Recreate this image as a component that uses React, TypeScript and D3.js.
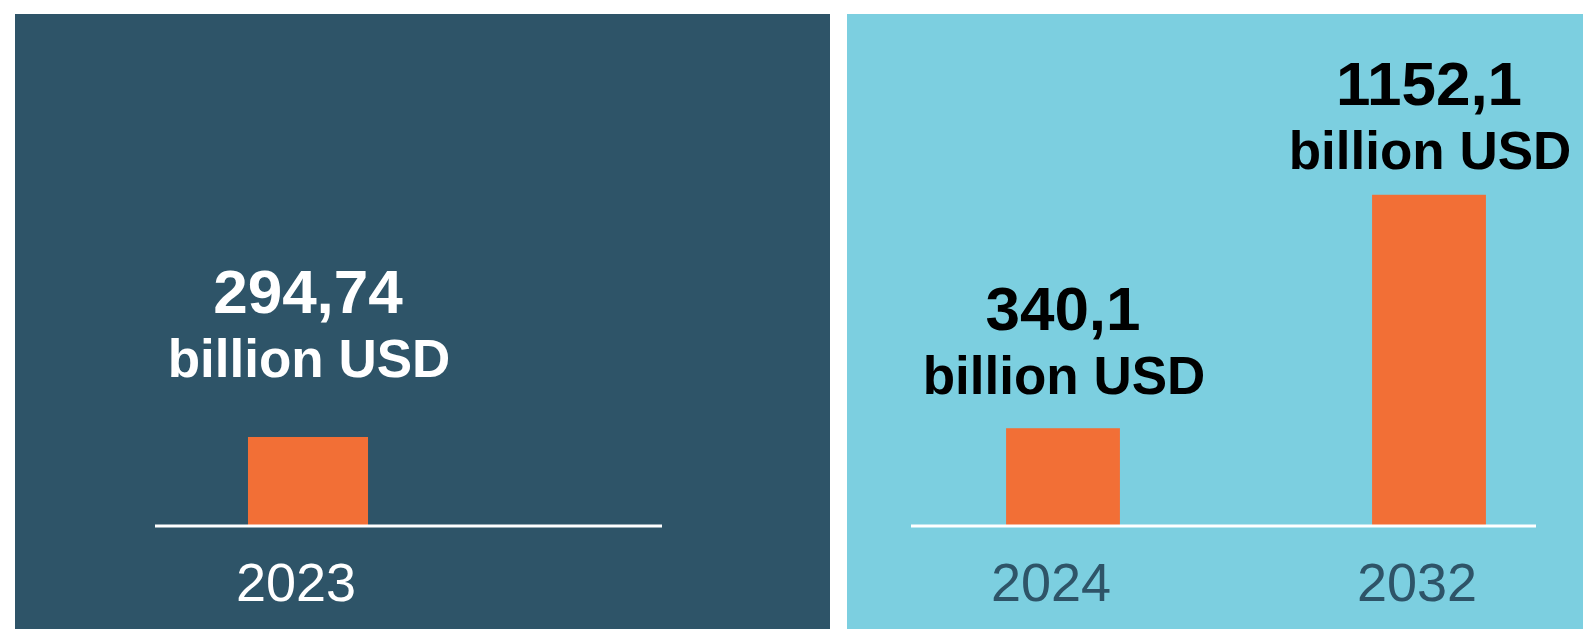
import React from "react";
import * as d3 from "d3";

const leftYears = ["2023"];
const leftValues = [294.74];
const leftLabels = ["294,74"];

const rightYears = ["2024", "2032"];
const rightValues = [340.1, 1152.1];
const rightLabels = ["340,1", "1152,1"];

const unitLabel = "billion USD";

const W = 1583;
const H = 629;
const DARK = "#2e5468";
const LIGHT = "#7ccfe0";
const ORANGE = "#f26f36";
const FONT = "'Liberation Sans', Arial, Helvetica, sans-serif";

type PanelProps = {
  years: string[];
  values: number[];
  labels: string[];
  xRange: [number, number];
  yTopAt1000: number;
  axis: [number, number];
  textColor: string;
  yearColor: string;
  labelOffsets: number[];
};

const BASE = 526;

function Panel({ years, values, labels, xRange, yTopAt1000, axis, textColor, yearColor, labelOffsets }: PanelProps) {
  const x = d3.scaleBand<string>().domain(years).range(xRange).paddingInner(0.689).paddingOuter(0.3445);
  const y = d3.scaleLinear().domain([0, 1000]).range([BASE, yTopAt1000]);
  return (
    <g>
      {values.map((v, i) => {
        const xs = x(years[i]) as number;
        const bw = x.bandwidth();
        const cx = xs + bw / 2;
        const top = y(v);
        return (
          <g key={years[i]}>
            <rect x={xs} y={top} width={bw} height={y(0) - top + 1} fill={ORANGE} />
            <text
              x={cx}
              y={top - labelOffsets[i]}
              textAnchor="middle"
              fontFamily={FONT}
              fontWeight="bold"
              fill={textColor}
            >
              <tspan x={cx} fontSize={62}>{labels[i]}</tspan>
              <tspan x={cx + 1} dy={64} fontSize={53}>{unitLabel}</tspan>
            </text>
            <text
              x={cx - 12}
              y={601}
              textAnchor="middle"
              fontFamily={FONT}
              fontSize={54}
              fill={yearColor}
            >
              {years[i]}
            </text>
          </g>
        );
      })}
      <line x1={axis[0]} x2={axis[1]} y1={BASE} y2={BASE} stroke="#ffffff" strokeWidth={3} />
    </g>
  );
}

export default function App() {
  return (
    <div style={{ position: "fixed", left: 0, top: 0, width: W, height: H, background: "#ffffff" }}>
      <svg width={W} height={H} style={{ display: "block" }}>
        <rect x={0} y={0} width={W} height={H} fill="#ffffff" />
        <rect x={15} y={14} width={815} height={H - 14} fill={DARK} />
        <rect x={847} y={14} width={W - 847} height={H - 14} fill={LIGHT} />
        <Panel
          years={leftYears}
          values={leftValues}
          labels={leftLabels}
          xRange={[115, 501]}
          yTopAt1000={224}
          axis={[155, 662]}
          textColor="#ffffff"
          yearColor="#ffffff"
          labelOffsets={[124]}
        />
        <Panel
          years={rightYears}
          values={rightValues}
          labels={rightLabels}
          xRange={[880, 1612]}
          yTopAt1000={238.5}
          axis={[911, 1536]}
          textColor="#000000"
          yearColor={DARK}
          labelOffsets={[98, 90]}
        />
      </svg>
    </div>
  );
}
